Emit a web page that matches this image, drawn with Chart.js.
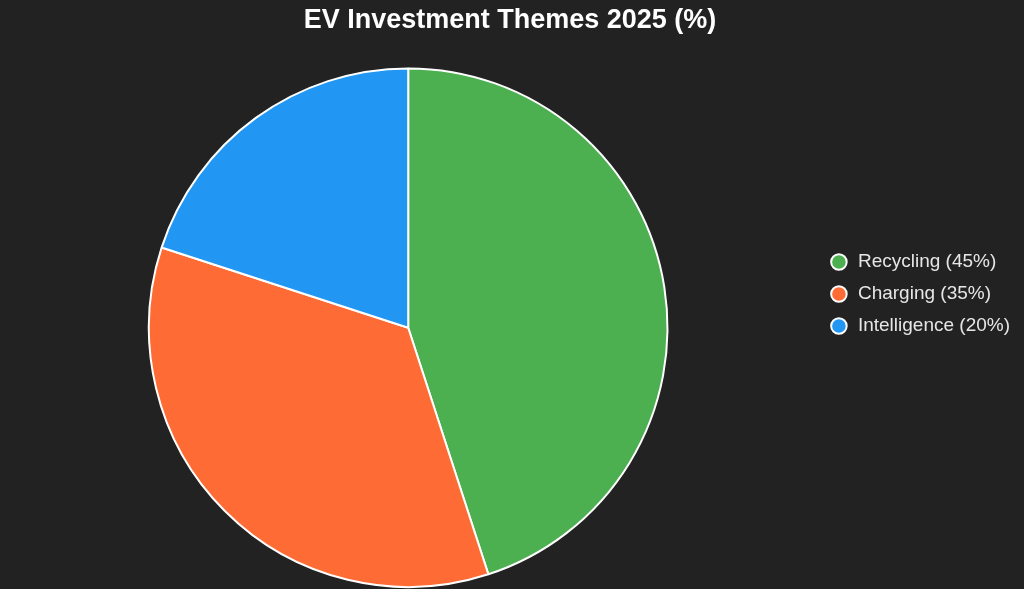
<!DOCTYPE html>
<html>
<head>
<meta charset="utf-8">
<script src="https://cdn.jsdelivr.net/npm/chart.js"></script>
<style>
    html, body { margin: 0; padding: 0; background: #222222; }
    #wrap { width: 1024px; height: 589px; }
</style>
</head>
<body>
<div id="wrap"><canvas id="theme-chart"></canvas></div>
<script>
// Data
const themes = ['Recycling (45%)', 'Charging (35%)', 'Intelligence (20%)'];
const shares = [45, 35, 20];
const sliceColors = ['#4CAF50', '#FF6B35', '#2196F3'];

const ctx = document.getElementById('theme-chart');
new Chart(ctx, {
    type: 'pie',
    data: {
        labels: themes,
        datasets: [{
            data: shares,
            backgroundColor: sliceColors,
            borderColor: '#ffffff',
            borderWidth: 2
        }]
    },
    options: {
        responsive: true,
        maintainAspectRatio: false,
        animation: false,
        layout: { padding: { bottom: 1, right: 4 } },
        plugins: {
            title: {
                display: true,
                text: 'EV Investment Themes 2025 (%)',
                color: '#ffffff',
                font: { family: 'Liberation Sans, Arial, sans-serif', size: 27, weight: 'bold' },
                padding: { top: 4, bottom: 31 }
            },
            legend: {
                position: 'right',
                labels: {
                    color: '#e6e6e6',
                    usePointStyle: true,
                    pointStyle: 'circle',
                    boxWidth: 21,
                    boxHeight: 11,
                    font: { family: 'Liberation Sans, Arial, sans-serif', size: 19 },
                    padding: 13
                }
            },
            tooltip: { enabled: false }
        }
    }
});
</script>
</body>
</html>
